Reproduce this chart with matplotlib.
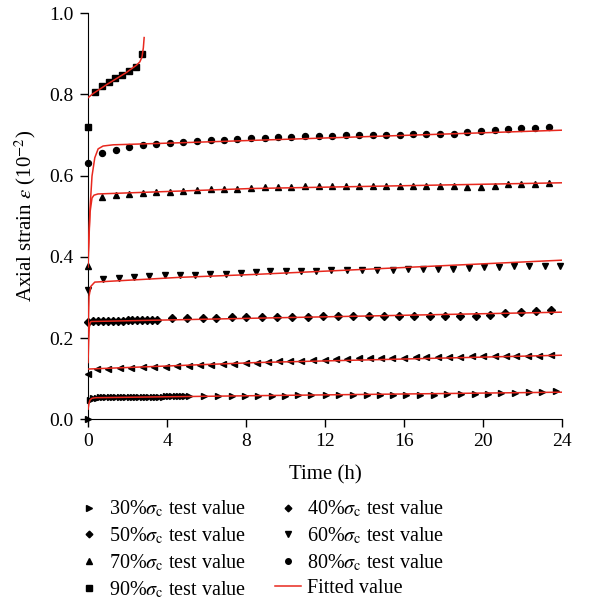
import matplotlib
matplotlib.use("Agg")
import matplotlib.pyplot as plt
from matplotlib.lines import Line2D

plt.rcParams['font.family'] = ['Liberation Serif', 'DejaVu Serif']
plt.rcParams['mathtext.fontset'] = 'stix'

# ---------------- data ----------------
t30 = [0.0, 0.10, 0.27, 0.43, 0.60, 0.77, 0.93, 1.10, 1.27, 1.43, 1.60, 1.77, 1.93,
       2.10, 2.27, 2.43, 2.60, 2.77, 2.93, 3.10, 3.27, 3.43, 3.60, 3.77, 3.93, 4.10,
       4.27, 4.43, 4.60, 4.77, 4.93, 5.10,
       5.86, 6.56, 7.27, 7.95, 8.61, 9.29, 9.96, 10.63, 11.31, 12.03, 12.71, 13.42,
       14.10, 14.77, 15.44, 16.12, 16.83, 17.50, 18.18, 18.86, 19.58, 20.25, 20.93,
       21.61, 22.33, 23.01, 23.68]
v30 = [0.0, 0.048, 0.052, 0.053, 0.054, 0.054, 0.0545, 0.055, 0.055, 0.055, 0.0552,
       0.0555, 0.0555, 0.0556, 0.0557, 0.0558, 0.0558, 0.056, 0.056, 0.056, 0.0561,
       0.0562, 0.0562, 0.0563, 0.0564, 0.0565, 0.0565, 0.0566, 0.0566, 0.0567, 0.0568,
       0.0568,
       0.0565, 0.057, 0.0575, 0.058, 0.0587, 0.0587, 0.0587, 0.0597, 0.0597, 0.0597,
       0.0597, 0.0597, 0.0597, 0.0604, 0.0604, 0.0604, 0.0604, 0.0612, 0.0621, 0.0621,
       0.0629, 0.0636, 0.0646, 0.0654, 0.0671, 0.0678, 0.0695]

t40 = [0.0, 0.45, 1.03, 1.61, 2.19, 2.77, 3.35, 3.93, 4.51, 5.09, 5.67, 6.25, 6.83,
       7.41, 7.99, 8.56, 9.11, 9.67, 10.24, 10.80, 11.39, 11.98, 12.57, 13.11, 13.70,
       14.26, 14.85, 15.41, 15.98, 16.58, 17.13, 17.72, 18.28, 18.85, 19.44, 20.00,
       20.59, 21.15, 21.69, 22.28, 22.84, 23.43]
v40 = [0.1115, 0.1245, 0.125, 0.126, 0.127, 0.128, 0.129, 0.130, 0.131, 0.132, 0.1335,
       0.1345, 0.136, 0.137, 0.1385, 0.140, 0.1418, 0.1435, 0.1443, 0.145, 0.146,
       0.1467, 0.1475, 0.1492, 0.150, 0.150, 0.151, 0.151, 0.1517, 0.1525, 0.1525,
       0.1534, 0.1541, 0.1541, 0.1549, 0.1549, 0.1559, 0.1559, 0.1566, 0.1566, 0.1573,
       0.1583]

t50 = [0.0, 0.25, 0.50, 0.75, 1.00, 1.25, 1.50, 1.75, 2.00, 2.25, 2.50, 2.75, 3.00,
       3.25, 3.50, 4.25, 5.00, 5.80, 6.50, 7.30, 8.00, 8.83, 9.59, 10.35, 11.14, 11.90,
       12.66, 13.42, 14.21, 14.97, 15.75, 16.51, 17.30, 18.06, 18.82, 19.62, 20.37,
       21.13, 21.91, 22.67, 23.46]
v50 = [0.241, 0.242, 0.242, 0.2425, 0.2425, 0.243, 0.243, 0.243, 0.2435, 0.2435, 0.244,
       0.244, 0.244, 0.2445, 0.2445, 0.249, 0.2495, 0.250, 0.2505, 0.251, 0.2515, 0.252,
       0.2528, 0.2528, 0.2528, 0.2535, 0.2535, 0.2545, 0.2545, 0.2545, 0.2545, 0.2552,
       0.2552, 0.2552, 0.2552, 0.2535, 0.256, 0.2619, 0.2651, 0.2668, 0.2683]

t60 = [0.0, 0.76, 1.57, 2.31, 3.09, 3.88, 4.64, 5.40, 6.16, 6.96, 7.72, 8.48, 9.23,
       10.01, 10.80, 11.56, 12.32, 13.11, 13.89, 14.65, 15.44, 16.20, 16.96, 17.72,
       18.48, 19.28, 20.05, 20.81, 21.57, 22.33, 23.12, 23.92]
v60 = [0.318, 0.345, 0.349, 0.3514, 0.353, 0.3546, 0.3556, 0.3564, 0.357, 0.358, 0.3596,
       0.363, 0.3645, 0.3655, 0.3662, 0.3662, 0.367, 0.368, 0.3687, 0.3687, 0.3687,
       0.3694, 0.3694, 0.3704, 0.3711, 0.3736, 0.3743, 0.376, 0.3768, 0.3778, 0.3785,
       0.3778]

t70 = [0.0, 0.71, 1.40, 2.08, 2.77, 3.46, 4.14, 4.81, 5.50, 6.20, 6.87, 7.54, 8.24,
       8.95, 9.62, 10.30, 10.97, 11.68, 12.37, 13.05, 13.72, 14.43, 15.11, 15.78, 16.46,
       17.13, 17.84, 18.51, 19.21, 19.88, 20.59, 21.27, 21.94, 22.61, 23.33]
v70 = [0.377, 0.548, 0.552, 0.555, 0.558, 0.5593, 0.561, 0.5628, 0.5643, 0.566, 0.5677,
       0.5684, 0.570, 0.571, 0.5716, 0.5726, 0.5734, 0.5734, 0.5741, 0.5741, 0.575,
       0.575, 0.575, 0.575, 0.575, 0.575, 0.575, 0.575, 0.5726, 0.5716, 0.5758, 0.5783,
       0.580, 0.5807, 0.5825]

t80 = [0.0, 0.71, 1.40, 2.08, 2.77, 3.46, 4.14, 4.81, 5.50, 6.20, 6.87, 7.54, 8.24,
       8.95, 9.62, 10.30, 10.97, 11.68, 12.37, 13.05, 13.72, 14.43, 15.11, 15.78, 16.46,
       17.13, 17.84, 18.51, 19.21, 19.88, 20.59, 21.27, 21.94, 22.61, 23.33]
v80 = [0.630, 0.656, 0.664, 0.670, 0.6745, 0.678, 0.680, 0.683, 0.685, 0.6876, 0.689,
       0.691, 0.6925, 0.6935, 0.695, 0.696, 0.6966, 0.6974, 0.6984, 0.699, 0.699, 0.6998,
       0.7008, 0.7008, 0.7023, 0.7023, 0.7023, 0.7023, 0.7065, 0.7107, 0.7131, 0.7146,
       0.7163, 0.718, 0.7194]

t90 = [0.0, 0.354, 0.709, 1.063, 1.387, 1.742, 2.076, 2.43, 2.734]
v90 = [0.7206, 0.807, 0.821, 0.8316, 0.8405, 0.8488, 0.8577, 0.8686, 0.9006]

# fitted curves
fit_t30 = [0.0, 0.05, 0.10, 0.20, 0.40, 8.61, 24.0]
fit_v30 = [0.025, 0.040, 0.048, 0.052, 0.0535, 0.0585, 0.067]
fit_t40 = [0.0, 8.56, 24.0]
fit_v40 = [0.124, 0.140, 0.158]
fit_t50 = [0.0, 0.03, 0.06, 0.10, 0.15, 8.83, 24.0]
fit_v50 = [0.14, 0.19, 0.225, 0.237, 0.241, 0.2495, 0.264]
fit_t60 = [0.0, 0.05, 0.14, 0.34, 4.64, 8.48, 24.0]
fit_v60 = [0.21, 0.303, 0.3275, 0.338, 0.3497, 0.357, 0.392]
fit_t70 = [0.0, 0.05, 0.10, 0.20, 0.30, 0.50, 8.27, 24.0]
fit_v70 = [0.375, 0.45, 0.51, 0.545, 0.552, 0.555, 0.5684, 0.5825]
fit_t80 = [0.0, 0.10, 0.20, 0.34, 0.51, 0.76, 1.27, 4.64, 24.0]
fit_v80 = [0.40, 0.52, 0.599, 0.644, 0.666, 0.673, 0.676, 0.681, 0.712]
fit_t90 = [0.0, 0.25, 1.0, 1.94, 2.45, 2.62, 2.73, 2.80, 2.84]
fit_v90 = [0.792, 0.802, 0.826, 0.854, 0.872, 0.880, 0.892, 0.915, 0.940]

labels = ['30%', '40%', '50%', '60%', '70%', '80%', '90%']
xticks = [0, 4, 8, 12, 16, 20, 24]
yticks = [0.0, 0.2, 0.4, 0.6, 0.8, 1.0]

# ---------------- plotting ----------------
red = '#e8281e'
fig = plt.figure(figsize=(5.91, 6.0), dpi=100)
ax = fig.add_axes([0.149, 0.301, 0.802, 0.677])

series = [(t30, v30, '>', 4.5), (t40, v40, '<', 4.5), (t50, v50, 'D', 3.6),
          (t60, v60, 'v', 4.5), (t70, v70, '^', 4.5), (t80, v80, 'o', 4.3),
          (t90, v90, 's', 4.0)]
for t, v, m, ms in series:
    ax.plot(t, v, ls='none', marker=m, ms=ms, color='black', mec='black',
            clip_on=False, zorder=3)

fits = [(fit_t30, fit_v30), (fit_t40, fit_v40), (fit_t50, fit_v50),
        (fit_t60, fit_v60), (fit_t70, fit_v70), (fit_t80, fit_v80),
        (fit_t90, fit_v90)]
for ft, fv in fits:
    ax.plot(ft, fv, color=red, lw=1.1, zorder=4)

ax.set_xlim(0, 24)
ax.set_ylim(0, 1.0)
ax.set_xticks(xticks)
ax.set_yticks(yticks)
ax.set_yticklabels([f'{y:.1f}' for y in yticks])
ax.spines['top'].set_visible(False)
ax.spines['right'].set_visible(False)
ax.tick_params(direction='out', length=5.5, width=1, labelsize=14, pad=4)
ax.tick_params(axis='y', pad=5)
ax.set_xlabel('Time (h)', fontsize=15, labelpad=11)
ax.set_ylabel(r'Axial strain $\varepsilon$ (10$^{-2}$)', fontsize=15, labelpad=8)

# legend (markers as drawn in the reference legend)
def mk(m, ms):
    return Line2D([], [], ls='none', marker=m, ms=ms, color='black')

h = {'30%': mk('>', 4.2), '40%': mk('D', 3.4), '50%': mk('D', 3.4),
     '60%': mk('v', 4.2), '70%': mk('^', 4.2), '80%': mk('o', 4.0),
     '90%': mk('s', 3.8)}
fit_h = Line2D([], [], color=red, lw=1.1)
order = ['30%', '50%', '70%', '90%', '40%', '60%', '80%']
handles = [h[k] for k in order] + [fit_h]
labs = [k + r'$\sigma_{\rm c}$ test value' for k in order] + ['Fitted value']
fig.legend(handles, labs, ncol=2, loc='upper left',
           bbox_to_anchor=(76.4 / 591, 1 - 499 / 600), frameon=False,
           fontsize=14.5, handlelength=1.3, handletextpad=0.3,
           columnspacing=1.45, labelspacing=0.3, borderpad=0, borderaxespad=0)

fig.savefig('out.png', dpi=100)
